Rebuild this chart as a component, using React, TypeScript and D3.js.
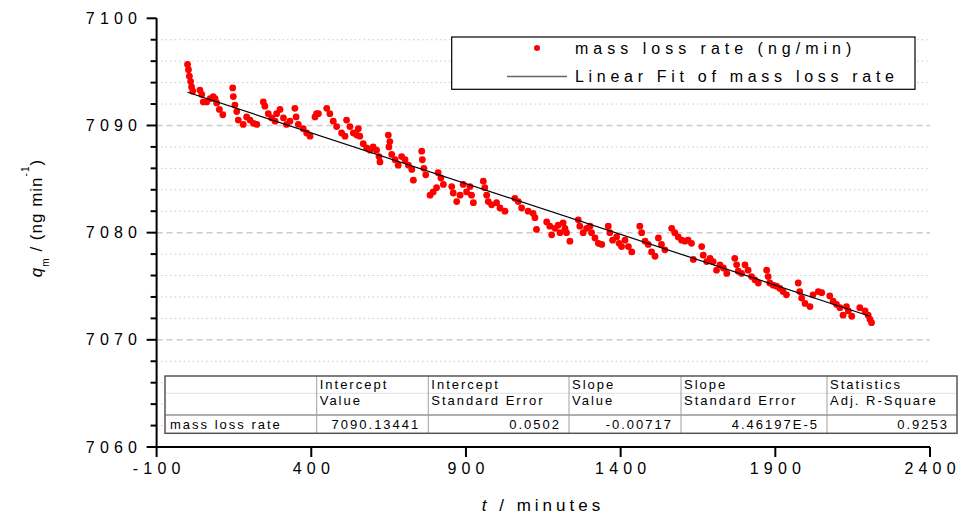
import React from 'react';
import * as d3 from 'd3';

// ---------- data ----------
const xTicks = [-100, 400, 900, 1400, 1900, 2400];
const yMajorTicks = [7060, 7070, 7080, 7090, 7100];
const yMinorTicks = [7062, 7064, 7066, 7068, 7072, 7074, 7076, 7078, 7082, 7084, 7086, 7088, 7092, 7094, 7096, 7098];

// mass loss rate (ng/min) vs t (minutes)
const massLossPoints: [number, number][] = [
  [0, 7095.7], [3, 7095.2], [6, 7094.6], [10, 7094.1], [13, 7093.6], [17, 7093.2],
  [40, 7093.3], [46, 7092.9], [51, 7092.2], [62, 7092.2], [73, 7092.5], [83, 7092.7], [89, 7092.5],
  [94, 7092.1], [103, 7091.5], [114, 7091.0],
  [146, 7093.5], [148, 7092.7], [153, 7091.9], [159, 7091.3], [164, 7090.5], [180, 7090.1],
  [191, 7090.8], [202, 7090.5], [213, 7090.2], [224, 7090.1],
  [245, 7092.2], [250, 7091.8], [261, 7091.1], [272, 7090.7], [283, 7090.4], [288, 7091.1],
  [299, 7091.5], [310, 7090.7], [320, 7090.1], [331, 7090.4],
  [347, 7091.6], [351, 7090.8], [358, 7090.1], [374, 7089.7], [385, 7089.3], [396, 7089.0],
  [412, 7090.8], [417, 7091.1], [423, 7091.1],
  [450, 7091.6], [460, 7091.1], [471, 7090.4], [482, 7089.9], [498, 7089.3], [509, 7089.0],
  [514, 7090.5], [525, 7089.9], [536, 7089.3], [547, 7089.1],
  [552, 7089.7], [557, 7089.0], [568, 7088.3], [579, 7087.9], [590, 7087.7], [600, 7088.0],
  [611, 7087.7], [619, 7087.1], [622, 7086.6],
  [649, 7089.1], [654, 7088.5], [651, 7088.0], [660, 7087.3], [671, 7086.8], [681, 7086.3],
  [692, 7087.1], [703, 7086.8], [714, 7086.3], [725, 7085.9], [730, 7084.9],
  [757, 7087.6], [759, 7086.8], [764, 7086.0], [770, 7085.4],
  [784, 7083.5], [794, 7083.8], [805, 7084.2],
  [810, 7085.6], [819, 7085.1], [827, 7084.5],
  [854, 7084.3], [859, 7083.7], [870, 7082.9], [881, 7083.5], [891, 7084.5], [902, 7083.8],
  [913, 7084.3], [918, 7083.5], [924, 7082.8],
  [956, 7084.8], [961, 7084.2], [967, 7083.5], [972, 7082.9], [983, 7082.6], [999, 7082.8],
  [1010, 7082.3], [1026, 7082.0],
  [1058, 7083.2], [1069, 7082.9], [1080, 7082.3], [1101, 7082.0],
  [1117, 7081.8], [1123, 7081.4], [1128, 7080.3],
  [1161, 7081.0], [1171, 7080.6], [1177, 7079.8], [1188, 7080.4], [1198, 7080.7], [1204, 7080.0],
  [1214, 7080.9], [1220, 7080.4], [1225, 7080.0], [1236, 7079.2],
  [1263, 7081.2], [1268, 7080.6], [1279, 7080.0], [1290, 7080.4], [1301, 7080.6], [1306, 7080.0],
  [1317, 7079.5], [1328, 7079.0], [1339, 7078.9],
  [1360, 7080.6], [1365, 7080.0], [1374, 7079.3], [1387, 7079.6], [1395, 7079.0], [1403, 7078.7],
  [1414, 7079.3], [1425, 7078.7], [1436, 7078.2],
  [1462, 7080.6], [1468, 7080.0], [1479, 7079.2], [1489, 7078.9], [1500, 7078.2], [1511, 7077.8],
  [1522, 7079.5], [1532, 7078.9], [1543, 7078.4],
  [1565, 7080.4], [1575, 7080.0], [1586, 7079.6], [1597, 7079.3], [1608, 7079.2], [1618, 7079.3],
  [1629, 7079.0], [1635, 7077.5],
  [1662, 7078.7], [1667, 7077.9], [1678, 7077.3],
  [1689, 7077.6], [1699, 7077.3], [1710, 7076.5], [1721, 7077.0], [1732, 7076.7], [1743, 7076.2],
  [1769, 7077.6], [1775, 7077.0], [1780, 7076.4], [1791, 7076.2], [1802, 7077.0], [1812, 7076.5],
  [1823, 7075.9], [1834, 7075.6], [1845, 7075.3],
  [1872, 7076.5], [1877, 7075.9], [1882, 7075.3], [1893, 7075.1], [1904, 7075.0], [1915, 7074.8],
  [1925, 7074.5], [1936, 7074.2],
  [1974, 7075.3], [1979, 7074.5], [1985, 7073.9], [1996, 7073.4], [2012, 7073.1],
  [2022, 7074.2], [2039, 7074.5], [2050, 7074.4],
  [2076, 7074.1], [2087, 7073.6], [2098, 7073.3], [2109, 7073.0], [2119, 7072.3], [2130, 7073.1],
  [2136, 7072.7], [2147, 7072.2],
  [2173, 7073.0], [2190, 7072.7], [2200, 7072.3], [2206, 7071.9], [2211, 7071.6],
];

// linear fit line as drawn
const fitT = [0, 2206];
const fitQ = [7093.1, 7072.2];

const legendLabels = ['mass loss rate (ng/min)', 'Linear Fit of mass loss rate'];

const tableHeader1 = ['', 'Intercept', 'Intercept', 'Slope', 'Slope', 'Statistics'];
const tableHeader2 = ['', 'Value', 'Standard Error', 'Value', 'Standard Error', 'Adj. R-Square'];
const tableRow = ['mass loss rate', '7090.13441', '0.0502', '-0.00717', '4.46197E-5', '0.9253'];

// ---------- chart ----------
const FONT = '"Liberation Sans", Arial, sans-serif';

export default function App() {
  const W = 967;
  const H = 516;
  const x = d3.scaleLinear().domain([-100, 2400]).range([156.6, 930]);
  const y = d3.scaleLinear().domain([7060, 7100]).range([447, 18.3]);

  const fitLine = d3.line<number>()
    .x((_, i) => x(fitT[i]))
    .y((d) => y(d))(fitQ) as string;

  const tickLs = 5.2;
  const tickFs = 16;

  // table layout
  const colX = [165, 316.7, 428.3, 569, 681, 827, 957];
  const tTop = 376, tR1 = 393.3, tR2 = 415, tBot = 433.3;

  return (
    <svg width={W} height={H} style={{ position: 'absolute', left: 0, top: 0, background: '#fff' }} fontFamily={FONT}>
      <rect x={0} y={0} width={W} height={H} fill="#fff" />

      {/* grid */}
      {yMinorTicks.map((v) => (
        <line key={'gm' + v} x1={x(-100)} x2={x(2400)} y1={y(v)} y2={y(v)}
          stroke="#c8c8c8" strokeWidth={1} strokeDasharray="1.5,3" />
      ))}
      {yMajorTicks.filter((v) => v !== 7060 && v !== 7100).map((v) => (
        <line key={'gM' + v} x1={x(-100)} x2={x(2400)} y1={y(v)} y2={y(v)}
          stroke="#cccccc" strokeWidth={1.5} strokeDasharray="6,4" />
      ))}

      {/* data */}
      {massLossPoints.map(([t, q], i) => (
        <circle key={'p' + i} cx={x(t)} cy={y(q)} r={3.4} fill="#ff0000" />
      ))}
      <path d={fitLine} fill="none" stroke="#000" strokeWidth={1.2} />

      {/* axes */}
      <line x1={x(-100)} x2={x(-100)} y1={y(7100)} y2={y(7060)} stroke="#000" strokeWidth={2} />
      <line x1={x(-100)} x2={x(2400)} y1={y(7060)} y2={y(7060)} stroke="#000" strokeWidth={2} />
      {yMajorTicks.map((v) => (
        <line key={'yt' + v} x1={x(-100) - 10} x2={x(-100)} y1={y(v)} y2={y(v)} stroke="#000" strokeWidth={2} />
      ))}
      {yMinorTicks.map((v) => (
        <line key={'ytm' + v} x1={x(-100) - 6} x2={x(-100)} y1={y(v)} y2={y(v)} stroke="#000" strokeWidth={2} />
      ))}
      {xTicks.map((t) => (
        <line key={'xt' + t} x1={x(t)} x2={x(t)} y1={y(7060)} y2={y(7060) + 10} stroke="#000" strokeWidth={2} />
      ))}
      {yMajorTicks.map((v) => (
        <text key={'yl' + v} x={137 + tickLs} y={y(v) + 5.5} textAnchor="end" fontSize={tickFs}
          letterSpacing={tickLs} fill="#000">{v}</text>
      ))}
      {xTicks.map((t) => (
        <text key={'xl' + t} x={x(t) + tickLs / 2} y={474} textAnchor="middle" fontSize={tickFs}
          letterSpacing={tickLs} fill="#000">{t}</text>
      ))}

      {/* axis titles */}
      <text x={543} y={511} textAnchor="middle" fontSize={17} letterSpacing={4} fill="#000">
        <tspan fontStyle="italic">t</tspan> / minutes
      </text>
      <text transform="translate(42,218) rotate(-90)" textAnchor="middle" fontSize={17} letterSpacing={1} fill="#000">
        <tspan fontStyle="italic">q</tspan>
        <tspan fontSize={10} dy={7}>m</tspan>
        <tspan dy={-7}>{' / (ng min'}</tspan>
        <tspan fontSize={10} dy={-13}>-1</tspan>
        <tspan dy={13}>)</tspan>
      </text>

      {/* legend */}
      <rect x={451.7} y={37} width={463.3} height={52.3} fill="#fff" stroke="#000" strokeWidth={1.2} />
      <circle cx={537} cy={48} r={3} fill="#ff0000" />
      <line x1={507} x2={567} y1={76.5} y2={76.5} stroke="#666" strokeWidth={1.5} />
      <text x={575} y={54} fontSize={16} letterSpacing={5} fill="#000">{legendLabels[0]}</text>
      <text x={575} y={82} fontSize={16} letterSpacing={4.7} fill="#000">{legendLabels[1]}</text>

      {/* stats table */}
      <rect x={colX[0]} y={tTop} width={colX[6] - colX[0]} height={tBot - tTop} fill="#fff" />
      <line x1={colX[0]} x2={colX[6]} y1={tR1} y2={tR1} stroke="#e0e0e0" strokeWidth={1} />
      <line x1={colX[0]} x2={colX[6]} y1={tR2} y2={tR2} stroke="#b0b0b0" strokeWidth={2} />
      {colX.slice(1, 6).map((cx, i) => (
        <line key={'tc' + i} x1={cx} x2={cx} y1={tTop} y2={tBot} stroke="#a0a0a0" strokeWidth={1} />
      ))}
      <rect x={colX[0]} y={tTop} width={colX[6] - colX[0]} height={tBot - tTop} fill="none" stroke="#555" strokeWidth={1.5} />
      {tableHeader1.map((s, i) => (
        <text key={'h1' + i} x={colX[i] + 3} y={389} fontSize={13} letterSpacing={2} fill="#000">{s}</text>
      ))}
      {tableHeader2.map((s, i) => (
        <text key={'h2' + i} x={colX[i] + 3} y={405} fontSize={13} letterSpacing={2} fill="#000">{s}</text>
      ))}
      {tableRow.map((s, i) => (
        <text key={'r' + i} x={i === 0 ? colX[0] + 5 : colX[i + 1] - 8} y={429}
          textAnchor={i === 0 ? 'start' : 'end'} fontSize={13} letterSpacing={2} fill="#000">{s}</text>
      ))}
    </svg>
  );
}
